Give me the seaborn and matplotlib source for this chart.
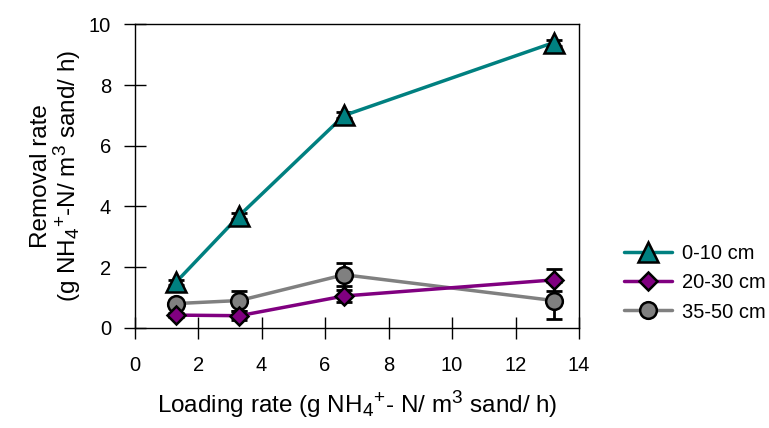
import numpy as np
import pandas as pd
import matplotlib
matplotlib.use('Agg')
import matplotlib.pyplot as plt
import seaborn as sns

# loading rate (x) and removal rate per depth layer
loading = [1.3, 3.3, 6.6, 13.2]
labels = ['0-10 cm', '20-30 cm', '35-50 cm']
top_rate = [1.5, 3.7, 7.0, 9.4]
top_err = [0.08, 0.1, 0.1, 0.1]
mid_rate = [0.42, 0.40, 1.05, 1.58]
mid_err = [0.06, 0.15, 0.2, 0.35]
deep_rate = [0.80, 0.90, 1.75, 0.90]
deep_err = [0.08, 0.33, 0.38, 0.6]

sns.set_style('ticks')
plt.rcParams['font.family'] = ['Liberation Sans', 'DejaVu Sans']
plt.rcParams['text.color'] = 'black'
plt.rcParams['axes.labelcolor'] = 'black'
plt.rcParams['mathtext.fontset'] = 'custom'
plt.rcParams['mathtext.rm'] = 'Liberation Sans'
plt.rcParams['mathtext.it'] = 'Liberation Sans'
# sub/superscripts in the original are a bit bigger than mathtext default
try:
    import matplotlib._mathtext as _mt
    _mt.SHRINK_FACTOR = 0.78
except Exception:
    pass

fig = plt.figure(figsize=(7.69, 4.28), dpi=100)
ax = fig.add_axes([0.175, 0.234, 0.578, 0.709])

series = [
    (top_rate, top_err, '#008080', '^', 14),
    (mid_rate, mid_err, '#800080', 'D', 9.5),
    (deep_rate, deep_err, '#808080', 'o', 12),
]
# draw the deepest layer first so the top layer sits on top
for i in [2, 1, 0]:
    rate, err, col, mk, ms = series[i]
    df = pd.DataFrame({'x': loading, 'y': rate})
    ax.errorbar(df['x'], df['y'], yerr=err, fmt='none', ecolor='black',
                elinewidth=2, capsize=6, capthick=2, zorder=2 + i * 0.1)
    sns.lineplot(data=df, x='x', y='y', ax=ax, color=col, linewidth=2.5,
                 marker=mk, markersize=ms, markerfacecolor=col,
                 markeredgecolor='black', markeredgewidth=1.8,
                 label=labels[i], zorder=3 + (2 - i))

ax.set_xlim(0, 14)
ax.set_ylim(0, 10)
ax.set_xticks(np.arange(0, 15, 2))
ax.set_yticks(np.arange(0, 11, 2))
ax.tick_params(direction='inout', length=16, width=1, labelsize=14.5,
               colors='black')
ax.tick_params(axis='x', pad=12)
ax.tick_params(axis='y', pad=9)
for s in ax.spines.values():
    s.set_color('black')
    s.set_linewidth(1)

ax.set_xlabel('Loading rate (g NH$_4$$^{+}$- N/ m$^3$ sand/ h)', fontsize=17.5,
              labelpad=10, color='black')
ax.set_ylabel('Removal rate\n(g NH$_4$$^{+}$-N/ m$^3$ sand/ h)', fontsize=17.5,
              labelpad=4, linespacing=1.0, color='black')

handles, labs = ax.get_legend_handles_labels()
order = [labs.index(l) for l in labels]
ax.legend([handles[k] for k in order], [labs[k] for k in order],
          loc='center left', bbox_to_anchor=(1.10, 0.148), frameon=False,
          fontsize=14.5, handlelength=2.4, labelspacing=0.5, borderpad=0,
          borderaxespad=0, handletextpad=0.5, labelcolor='black')

fig.savefig('out.png', dpi=100)
